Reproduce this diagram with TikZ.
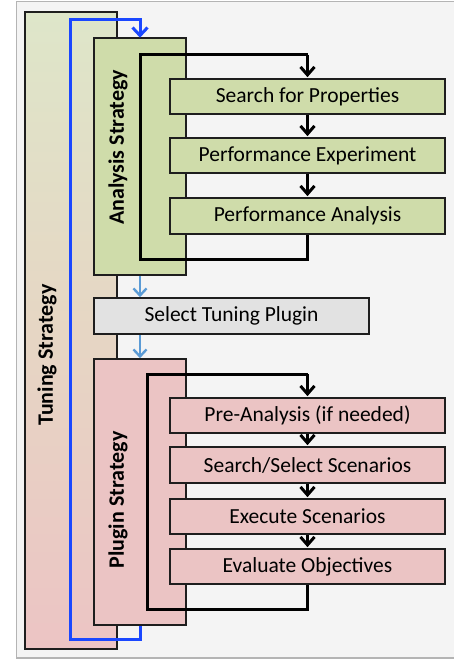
\documentclass[tikz,border=0pt]{standalone}
\usepackage{fontspec}
\setmainfont{Carlito}
\usetikzlibrary{arrows.meta}
\definecolor{bgc}{HTML}{F4F4F4}
\definecolor{bgline}{HTML}{B4B4B4}
\definecolor{grn}{HTML}{CFDCAA}
\definecolor{pnk}{HTML}{EBC4C4}
\definecolor{gry}{HTML}{E2E2E2}
\definecolor{tgtop}{HTML}{DEE6C9}
\definecolor{tgmid}{HTML}{E6D6C4}
\definecolor{tgbot}{HTML}{ECC4C4}
\definecolor{ltblue}{HTML}{5B9BD5}
\definecolor{loopblue}{HTML}{1A47FF}
\definecolor{edge}{HTML}{1E1E1E}
\tikzset{
  box/.style={draw=edge, line width=1.6pt, rectangle, inner sep=0pt,
    font=\fontsize{21.5}{24}\selectfont, text=black},
  stepbox/.style={box, minimum width=275pt, minimum height=35pt},
  gstep/.style={stepbox, fill=grn},
  pstep/.style={stepbox, fill=pnk},
  lbl/.style={font=\fontsize{22}{24}\selectfont\bfseries, rotate=90, inner sep=0pt},
  blk/.style={line width=3pt, draw=black, -{Straight Barb[length=8pt,width=14pt]}},
  blkplain/.style={line width=3pt, draw=black},
  lb/.style={line width=2.4pt, draw=ltblue, -{Straight Barb[length=7pt,width=13pt]}},
  bl/.style={line width=3pt, draw=loopblue, line join=miter},
}
\begin{document}
\begin{tikzpicture}[x=1pt,y=-1pt]
\useasboundingbox (0,0) rectangle (453,661);
\fill[white] (0,0) rectangle (453,661);
\draw[bgline, fill=bgc, line width=1.2pt] (16.5,1.5) rectangle (460,658);
% tuning strategy
\node[box, minimum width=92pt, minimum height=637pt, top color=tgtop, bottom color=tgbot, middle color=tgmid] (tuning) at (71,330.5) {};
\node[lbl] (tuninglbl) at (47,355) {Tuning Strategy};
% blue loop coordinates
\coordinate (bl1) at (140,639);
\coordinate (bl2) at (70,639);
\coordinate (bl3) at (70,20);
\coordinate (bl4) at (140,20);
% analysis strategy
\node[box, fill=grn, minimum width=92pt, minimum height=237pt] (analysis) at (140,156.5) {};
\node[lbl] (analysislbl) at (118,147.5) {Analysis Strategy};
% plugin strategy
\node[box, fill=pnk, minimum width=92pt, minimum height=266pt] (plugin) at (140,492) {};
\node[lbl] (pluginlbl) at (118,500) {Plugin Strategy};
% select
\node[box, fill=gry, minimum width=275pt, minimum height=36pt] (select) at (231.5,316) {Select Tuning Plugin};
% analysis loop coordinates
\coordinate (a1) at (307.5,259);
\coordinate (a2) at (140,259);
\coordinate (a3) at (140,55);
\coordinate (a4) at (307.5,55);
\draw[blkplain, line join=miter] (307.5,234) -- (a1) -- (a2) -- (a3) -- (a4);
% plugin loop coordinates
\coordinate (p1) at (307.5,609);
\coordinate (p2) at (147,609);
\coordinate (p3) at (147,374);
\coordinate (p4) at (307.5,374);
\draw[blkplain, line join=miter] (307.5,584) -- (p1) -- (p2) -- (p3) -- (p4);
% analysis steps
\node[gstep] (search) at (307.5,96.5) {Search for Properties};
\node[gstep] (perfexp) at (307.5,155.5) {Performance Experiment};
\node[gstep, minimum height=36pt] (perfana) at (307.5,216) {Performance Analysis};
% plugin steps
\node[pstep] (pre) at (307.5,415.5) {Pre-Analysis (if needed)};
\node[pstep, minimum height=36pt] (scen) at (307.5,465) {Search/Select Scenarios};
\node[pstep] (exec) at (307.5,516.5) {Execute Scenarios};
\node[pstep] (eval) at (307.5,566.5) {Evaluate Objectives};
% loop arrows into first steps
\draw[blk] (a4) -- ([yshift=1pt]search.north);
\draw[blk] (p4) -- ([yshift=1pt]pre.north);
% step arrows
\draw[blk] (search) -- ([yshift=1pt]perfexp.north);
\draw[blk] (perfexp) -- ([yshift=1pt]perfana.north);
\draw[blk] (pre) -- ([yshift=1pt]scen.north);
\draw[blk] (scen) -- ([yshift=1pt]exec.north);
\draw[blk] (exec) -- ([yshift=1pt]eval.north);
% redraw step boxes on top of arrow starts
\node[gstep] at (search) {Search for Properties};
\node[gstep] at (perfexp) {Performance Experiment};
\node[pstep, minimum height=36pt] at (scen) {Search/Select Scenarios};
\node[pstep] at (exec) {Execute Scenarios};
% light blue arrows
\draw[lb] (analysis.south) -- (analysis.south |- select.north);
\draw[lb] (analysis.south |- select.south) -- (plugin.north);
% blue loop
\draw[bl] (plugin.south -| bl1) -- (bl1) -- (bl2) -- (bl3) -- (bl4)
  [-{Straight Barb[length=8pt,width=15pt]}] -- ([yshift=-0.5pt]analysis.north);
\end{tikzpicture}
\end{document}
